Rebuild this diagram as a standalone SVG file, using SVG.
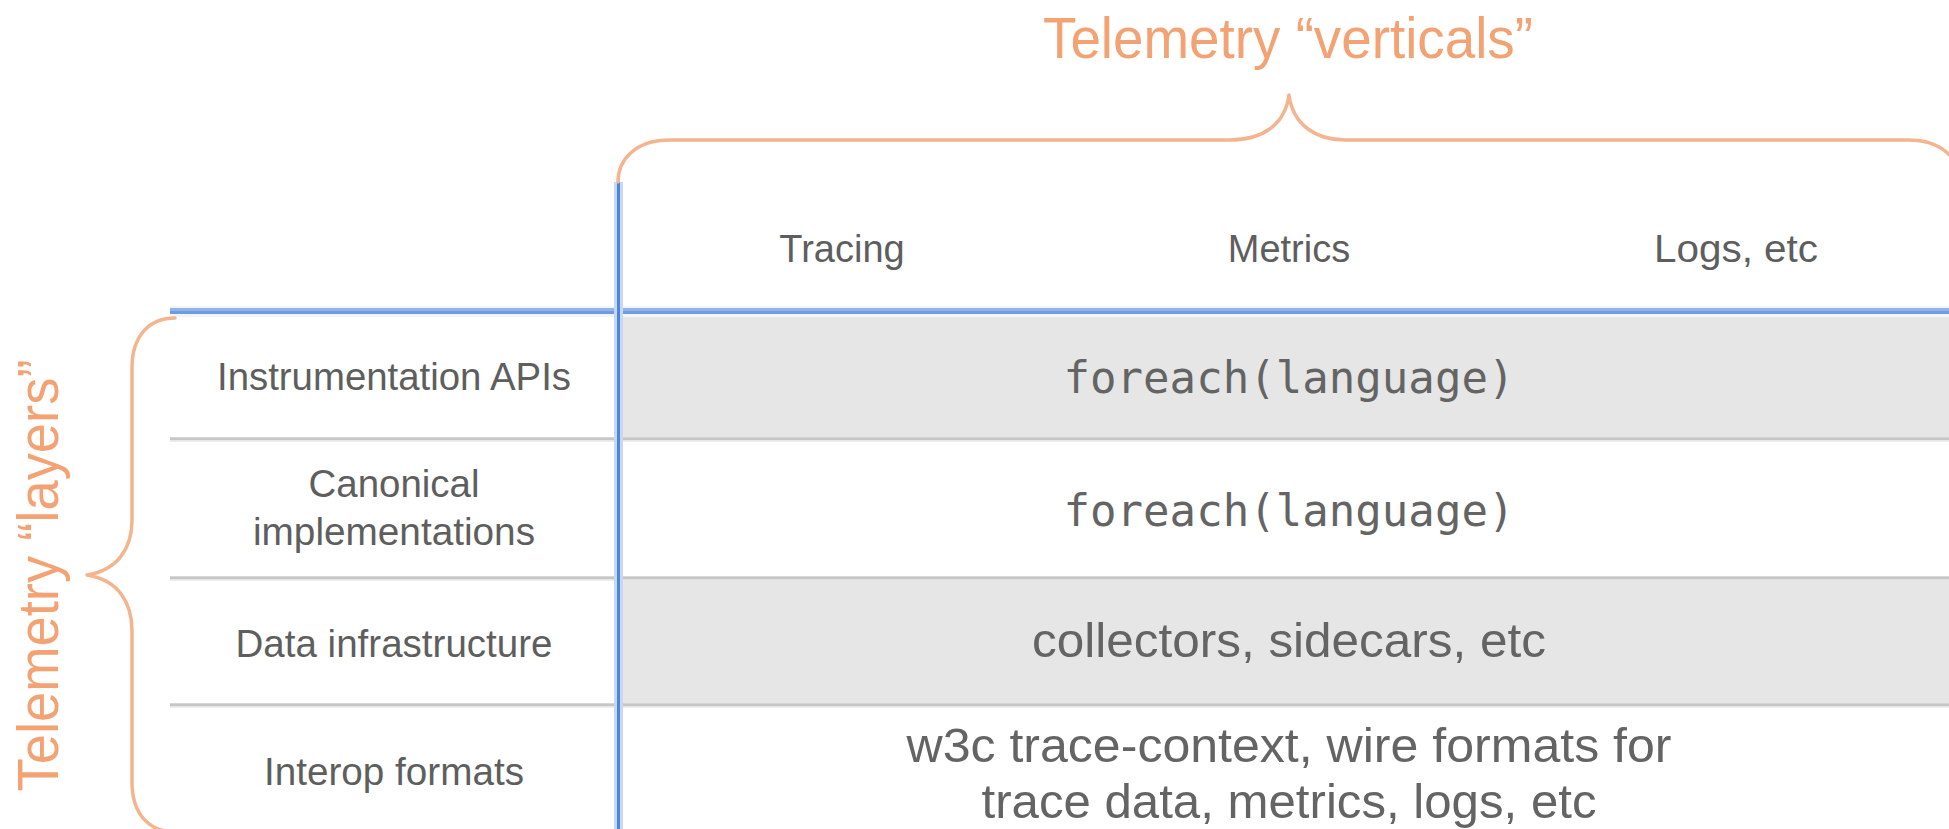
<svg xmlns="http://www.w3.org/2000/svg" width="1949" height="829" viewBox="0 0 1949 829">
  <style>
    .lbl { font-family: "Liberation Sans", Arial, Helvetica, sans-serif; font-size: 38px; fill: #5e5e5e; text-anchor: middle; }
    .cnt { font-family: "Liberation Sans", Arial, Helvetica, sans-serif; font-size: 48px; fill: #646464; text-anchor: middle; }
    .mono { font-family: "DejaVu Sans Mono", "Liberation Mono", monospace; font-size: 44px; fill: #646464; text-anchor: middle; }
    .title { font-family: "Liberation Sans", Arial, Helvetica, sans-serif; font-size: 57px; fill: #f3a373; text-anchor: middle; }
    .brace { fill: none; stroke: #f4b48e; stroke-width: 3.5; stroke-linecap: round; stroke-linejoin: round; }
    .rowfill { fill: #e6e6e6; }
    .gline { fill: #c6c6c6; }
    .gshade { fill: #eeeeee; }
  </style>
  <rect x="0" y="0" width="1949" height="829" fill="#ffffff"/>

  <!-- row backgrounds -->
  <g id="row-backgrounds">
    <rect class="rowfill" x="620" y="314" width="1329" height="123.5"/>
    <rect class="rowfill" x="620" y="579" width="1329" height="124.5"/>
  </g>

  <!-- grid lines -->
  <g id="connectors">
    <rect class="gshade" x="170" y="440" width="1779" height="2"/>
    <rect class="gline" x="170" y="437.3" width="1779" height="2.9"/>
    <rect class="gshade" x="170" y="579" width="449" height="2"/>
    <rect class="gline" x="170" y="576.3" width="1779" height="2.9"/>
    <rect class="gshade" x="170" y="706" width="1779" height="2"/>
    <rect class="gline" x="170" y="703.3" width="1779" height="2.9"/>
    <rect x="170" y="306" width="1779" height="11" fill="#f2f4f8"/>
    <rect x="170" y="308" width="1779" height="3" fill="#93b3e8"/>
    <rect x="170" y="311" width="1779" height="3" fill="#6e9be1"/>
    <line x1="618.5" y1="182" x2="618.5" y2="829" stroke="#c9d8f1" stroke-width="9"/>
    <line x1="618.5" y1="182" x2="618.5" y2="829" stroke="#4a86df" stroke-width="3"/>
  </g>

  <!-- braces -->
  <g id="brace-verticals">
    <path class="brace" d="M 618 182 C 618 160, 635 140, 670 140 L 1230 140 C 1262 140, 1285 125, 1289 95 C 1293 125, 1316 140, 1345 140 L 1908 140 C 1943 140, 1960 160, 1960 182"/>
    <text class="title" x="1288" y="58" textLength="490" lengthAdjust="spacingAndGlyphs">Telemetry “verticals”</text>
  </g>
  <g id="brace-layers">
    <path class="brace" d="M 175 318 C 150 318, 132 335, 132 368 L 132 520 C 132 548, 118 570, 87 575 C 118 580, 132 602, 132 631 L 132 782 C 132 815, 150 832, 175 832"/>
    <text class="title" transform="translate(58 575.5) rotate(-90)" x="0" y="0" textLength="432" lengthAdjust="spacingAndGlyphs">Telemetry “layers”</text>
  </g>

  <!-- column headers -->
  <g id="col-tracing"><text class="lbl" x="842" y="262">Tracing</text></g>
  <g id="col-metrics"><text class="lbl" x="1289" y="262">Metrics</text></g>
  <g id="col-logs"><text class="lbl" x="1736" y="262" textLength="164" lengthAdjust="spacingAndGlyphs">Logs, etc</text></g>

  <!-- row labels -->
  <g id="row-instrumentation"><text class="lbl" x="394" y="390" textLength="354" lengthAdjust="spacingAndGlyphs">Instrumentation APIs</text></g>
  <g id="row-canonical">
    <text class="lbl" x="394" y="497" textLength="171" lengthAdjust="spacingAndGlyphs">Canonical</text>
    <text class="lbl" x="394" y="545" textLength="282" lengthAdjust="spacingAndGlyphs">implementations</text>
  </g>
  <g id="row-data"><text class="lbl" x="394" y="657" textLength="317" lengthAdjust="spacingAndGlyphs">Data infrastructure</text></g>
  <g id="row-interop"><text class="lbl" x="394" y="785" textLength="260" lengthAdjust="spacingAndGlyphs">Interop formats</text></g>

  <!-- content cells -->
  <g id="cell-instrumentation"><text class="mono" x="1289" y="393" textLength="451" lengthAdjust="spacingAndGlyphs">foreach(language)</text></g>
  <g id="cell-canonical"><text class="mono" x="1289" y="526" textLength="451" lengthAdjust="spacingAndGlyphs">foreach(language)</text></g>
  <g id="cell-data"><text class="cnt" x="1289" y="657" textLength="514" lengthAdjust="spacingAndGlyphs">collectors, sidecars, etc</text></g>
  <g id="cell-interop">
    <text class="cnt" x="1289" y="762" textLength="765" lengthAdjust="spacingAndGlyphs">w3c trace-context, wire formats for</text>
    <text class="cnt" x="1289" y="818" textLength="615" lengthAdjust="spacingAndGlyphs">trace data, metrics, logs, etc</text>
  </g>
</svg>
